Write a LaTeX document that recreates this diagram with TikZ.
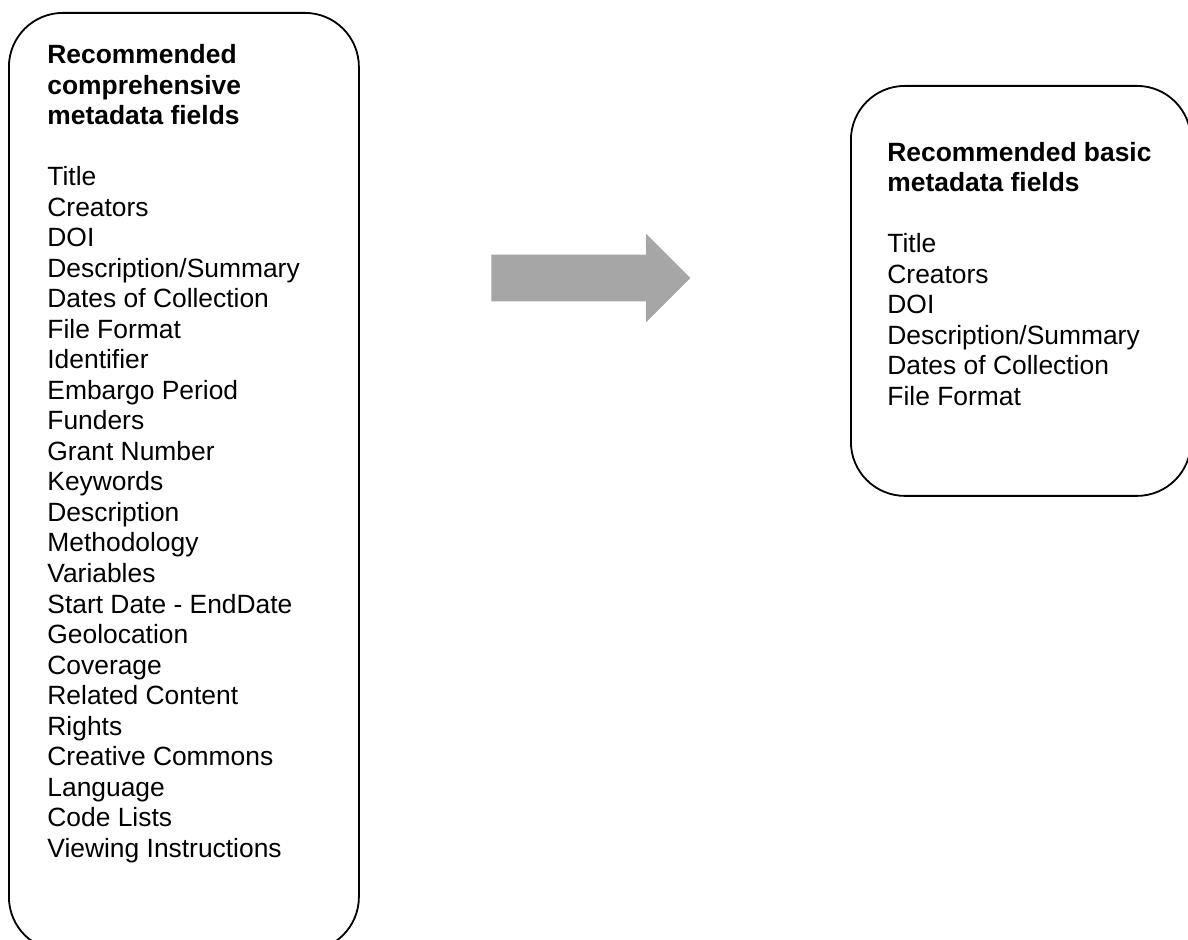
\documentclass[tikz,border=0pt]{standalone}
\usepackage{fontspec}
\setmainfont{Liberation Sans}
\usetikzlibrary{shapes.arrows}
\definecolor{mdgrey}{RGB}{166,166,166}
\tikzset{
  fieldbox/.style={draw, line width=0.9pt, rounded corners=27pt, inner sep=0pt, anchor=north west},
  fieldtxt/.style={anchor=base west, inner sep=0pt, font=\fontsize{13.2}{15.25}\selectfont},
  fieldhead/.style={fieldtxt, font=\fontsize{13.2}{15.25}\selectfont\bfseries}
}

\begin{document}
\begin{tikzpicture}[x=0.5pt, y=-0.5pt]
    \clip (0,0) rectangle (1188,940);
    \node[fieldbox, minimum width=175pt, minimum height=469pt] (full) at (8,12) {};
    \node[fieldbox, minimum width=170pt, minimum height=205pt] (basic) at (850,85) {};
    \foreach \t [count=\i from 0] in {Recommended, comprehensive, metadata fields}
      \node[fieldhead] (fullh\i) at (47,{64+30.5*\i}) {\t};
    \foreach \t [count=\i from 4] in {Title, Creators, DOI, Description/Summary,
        Dates of Collection, File Format, Identifier, Embargo Period, Funders,
        Grant Number, Keywords, Description, Methodology, Variables,
        Start Date - EndDate, Geolocation, Coverage, Related Content, Rights,
        Creative Commons, Language, Code Lists, Viewing Instructions}
      \node[fieldtxt] (fullf\i) at (47,{64+30.5*\i}) {\t};
    \foreach \t [count=\i from 0] in {Recommended basic, metadata fields}
      \node[fieldhead] (basich\i) at (887,{161.5+30.5*\i}) {\t};
    \foreach \t [count=\i from 3] in {Title, Creators, DOI, Description/Summary,
        Dates of Collection, File Format}
      \node[fieldtxt] (basicf\i) at (887,{161.5+30.5*\i}) {\t};
    \node[single arrow, fill=mdgrey, inner sep=11.5pt, minimum height=99.5pt,
      single arrow head extend=10.5pt, anchor=tip] (arr) at (691,278) {};
  \end{tikzpicture}
\end{document}
